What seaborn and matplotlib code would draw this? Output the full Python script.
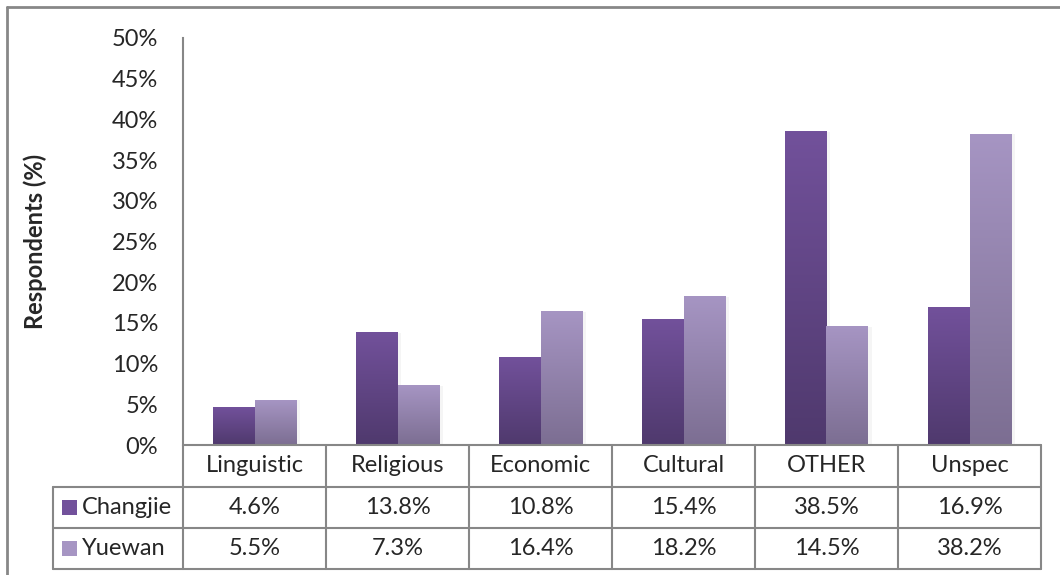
import matplotlib.pyplot as plt
import numpy as np
import pandas as pd
import seaborn as sns
from matplotlib.colors import LinearSegmentedColormap
from matplotlib.lines import Line2D
from matplotlib.patches import Rectangle

categories = ["Linguistic", "Religious", "Economic", "Cultural", "OTHER", "Unspec"]
series = ["Changjie", "Yuewan"]
changjie = [4.6, 13.8, 10.8, 15.4, 38.5, 16.9]
yuewan = [5.5, 7.3, 16.4, 18.2, 14.5, 38.2]
y_ticks = [0, 5, 10, 15, 20, 25, 30, 35, 40, 45, 50]

# gradient colours (top, bottom) for each series
GRADIENTS = {
    "Changjie": ("#72519b", "#4f396d"),
    "Yuewan": ("#a695c3", "#7c6e92"),
}
LINE_COLOR = "#878787"
FONT = ["Lato", "DejaVu Sans"]
FS = 17

W, H = 1060, 575


def fx(px):
    return px / W


def fy(py):
    return 1 - py / H


df = pd.DataFrame({
    "category": categories * 2,
    "series": [series[0]] * len(categories) + [series[1]] * len(categories),
    "value": changjie + yuewan,
})

sns.set_theme(style="white")
plt.rcParams["font.family"] = FONT

fig = plt.figure(figsize=(W / 100, H / 100), dpi=100)

# layout in pixels
plot_left, plot_right = 183, 1041
plot_top, plot_bottom = 38, 445
leg_left = 53
row_edges = [445, 487, 528, 569]

ax = fig.add_axes([fx(plot_left), fy(plot_bottom),
                   fx(plot_right - plot_left), (plot_bottom - plot_top) / H])
sns.barplot(data=df, x="category", y="value", hue="series", order=categories,
            hue_order=series, palette=[GRADIENTS[s][0] for s in series],
            width=0.58, gap=0, legend=False, ax=ax, edgecolor="none")

# replace flat fills with vertical gradients
for cont, name in zip(ax.containers, series):
    top, bottom = GRADIENTS[name]
    cmap = LinearSegmentedColormap.from_list(name, [bottom, top])
    for bar in cont:
        x0, y0 = bar.get_x(), bar.get_y()
        w, h = bar.get_width(), bar.get_height()
        # faint shadow to the right
        ax.add_patch(Rectangle((x0 + w, y0), 0.025, h, facecolor="#000000",
                               alpha=0.04, edgecolor="none", zorder=1))
        grad = np.linspace(0, 1, 256).reshape(-1, 1)
        ax.imshow(grad, cmap=cmap, origin="lower", aspect="auto",
                  extent=[x0, x0 + w, y0, y0 + h], zorder=2)
        bar.set_facecolor("none")

ax.set_xlim(-0.5, len(categories) - 0.5)
ax.set_ylim(0, 50)
ax.set_yticks(y_ticks)
ax.set_yticklabels([f"{t}%" for t in y_ticks], fontsize=FS, family=FONT)
ax.tick_params(axis="y", length=0, pad=18)
ax.set_xticks([])
ax.set_xlabel("")
ax.set_ylabel("")
for side in ["top", "right", "bottom"]:
    ax.spines[side].set_visible(False)
ax.spines["left"].set_color(LINE_COLOR)
ax.spines["left"].set_linewidth(1.5)

fig.text(fx(35), fy((plot_top + plot_bottom) / 2), "Respondents (%)",
         rotation=90, ha="center", va="center", fontsize=FS, fontweight="bold",
         family=FONT)

# data table below the plot
col_w = (plot_right - plot_left) / len(categories)
col_edges = [plot_left + i * col_w for i in range(len(categories) + 1)]


def hline(y, x0, x1):
    fig.add_artist(Line2D([fx(x0), fx(x1)], [fy(y), fy(y)], color=LINE_COLOR, lw=1.5))


def vline(x, y0, y1):
    fig.add_artist(Line2D([fx(x), fx(x)], [fy(y0), fy(y1)], color=LINE_COLOR, lw=1.5))


hline(row_edges[0], plot_left, plot_right)
for y in row_edges[1:]:
    hline(y, leg_left, plot_right)
vline(leg_left, row_edges[1], row_edges[-1])
vline(plot_left, plot_bottom, row_edges[-1])
for x in col_edges[1:]:
    vline(x, row_edges[0], row_edges[-1])

for i, cat in enumerate(categories):
    cx = (col_edges[i] + col_edges[i + 1]) / 2
    fig.text(fx(cx), fy((row_edges[0] + row_edges[1]) / 2), cat,
             ha="center", va="center", fontsize=FS, family=FONT)
    for r, vals in enumerate([changjie, yuewan]):
        cy = (row_edges[r + 1] + row_edges[r + 2]) / 2
        fig.text(fx(cx), fy(cy), f"{vals[i]:.1f}%", ha="center", va="center",
                 fontsize=FS, family=FONT)

for r, name in enumerate(series):
    cy = (row_edges[r + 1] + row_edges[r + 2]) / 2
    top, bottom = GRADIENTS[name]
    sw = 15
    fig.add_artist(Rectangle((fx(62), fy(cy + sw / 2)), sw / W, sw / H,
                             facecolor=top, edgecolor="none"))
    fig.text(fx(82), fy(cy), name, ha="left", va="center", fontsize=FS, family=FONT)

# outer chart frame
fig.add_artist(Line2D([fx(7), fx(7)], [fy(7), 0], color=LINE_COLOR, lw=2))
fig.add_artist(Line2D([fx(7), 1], [fy(7), fy(7)], color=LINE_COLOR, lw=2))

fig.savefig("out.png", dpi=100)
